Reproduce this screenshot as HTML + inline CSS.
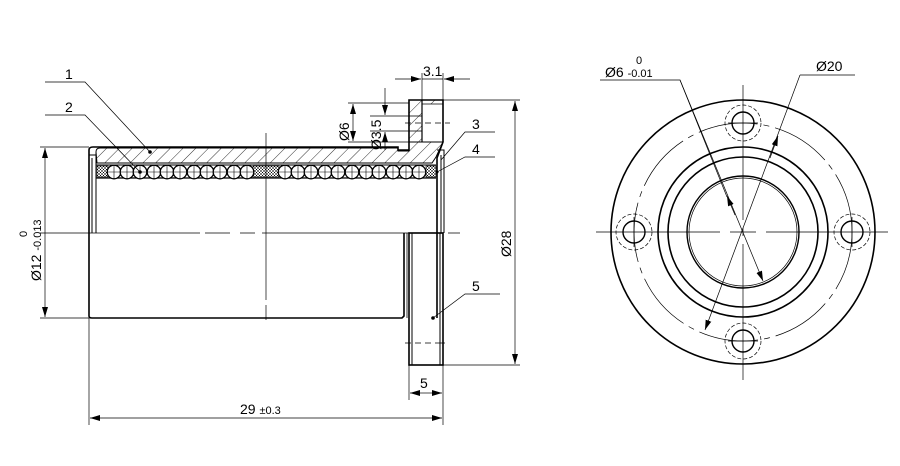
<!DOCTYPE html>
<html><head><meta charset="utf-8"><style>
html,body{margin:0;padding:0;background:#fff;}
svg{display:block;}
text{font-family:"Liberation Sans","DejaVu Sans",sans-serif;fill:#000;}
</style></head><body>
<svg width="900" height="466" viewBox="0 0 900 466" xmlns="http://www.w3.org/2000/svg">
<defs>
<pattern id="h" width="9" height="9" patternUnits="userSpaceOnUse" patternTransform="rotate(45)">
<line x1="0" y1="0" x2="0" y2="9" stroke="#000" stroke-width="0.8"/></pattern>
<pattern id="x" width="3" height="3" patternUnits="userSpaceOnUse">
<path d="M0 0L3 3M3 0L0 3" stroke="#000" stroke-width="0.5"/></pattern>
<g id="b"><circle r="6.8" fill="#fff" stroke="#000" stroke-width="1.3"/><path d="M-6.8 0H6.8M0 -6.8V6.8" stroke="#000" stroke-width="0.6"/></g>
<marker id="a" markerWidth="10" markerHeight="6" refX="10" refY="3" orient="auto" markerUnits="userSpaceOnUse"><path d="M0 0L10 3L0 6z" fill="#000"/></marker>
</defs>
<g fill="none" stroke="#000">
<path d="M89 150Q89 147 93 147H398V150H409V100H443V142L437 158V318" stroke-width="1.6"/>
<path d="M89 150V316Q89 318 92 318H402L404 316V233" stroke-width="1.6"/>
<rect x="409" y="233" width="34" height="132" stroke-width="1.6"/>
<line x1="412" y1="233" x2="412" y2="365" stroke-width="1"/>
<line x1="440" y1="233" x2="440" y2="365" stroke-width="1"/>
<line x1="407" y1="233" x2="407" y2="318" stroke-width="0.8"/>
<path d="M96 152Q96 148 100 148H398V151H409V142H443L436 157L432 163H97Z" fill="url(#h)" stroke-width="1"/>
<path d="M409 100H422V142H409Z" fill="url(#h)" stroke-width="1"/>
<path d="M422 100H443V104H422Z" fill="url(#h)" stroke-width="0.8"/>
<line x1="409" y1="116" x2="422" y2="116" stroke-width="0.8"/>
<line x1="409" y1="131" x2="422" y2="131" stroke-width="0.8"/>
<line x1="422" y1="100" x2="422" y2="142" stroke-width="1.2"/>
<path d="M405 123H411M415 123H421M425 123H431M435 123H441M445 123H450" stroke-width="0.7"/>
<line x1="96" y1="165" x2="436" y2="165" stroke-width="1"/>
<line x1="96" y1="178" x2="436" y2="178" stroke-width="1.2"/>
<rect x="97" y="166" width="11" height="11" fill="url(#x)" stroke-width="0.6"/>
<rect x="253" y="166" width="26" height="11" fill="url(#x)" stroke-width="0.6"/>
<rect x="426" y="166" width="10" height="11" fill="url(#x)" stroke-width="0.6"/>
<path d="M89 155H96V233M92 158V233M96 152V233" stroke-width="1"/>
<path d="M437 150H444V233M441 155V233M437 158V233" stroke-width="1"/>
<path d="M40 233H200M205 233H230M240 233H255M262 233H440M448 233H460" stroke-width="0.7"/>
<path d="M266 133V300M266 305V320" stroke-width="0.7"/>
<path d="M405 343H411M415 343H421M425 343H431M435 343H445" stroke-width="0.7"/>
</g>
<g>
<use href="#b" x="114" y="172"/><use href="#b" x="127" y="172"/><use href="#b" x="140" y="172"/><use href="#b" x="154" y="172"/><use href="#b" x="167" y="172"/><use href="#b" x="180" y="172"/><use href="#b" x="194" y="172"/><use href="#b" x="207" y="172"/><use href="#b" x="220" y="172"/><use href="#b" x="234" y="172"/><use href="#b" x="247" y="172"/>
<use href="#b" x="285" y="172"/><use href="#b" x="298" y="172"/><use href="#b" x="311" y="172"/><use href="#b" x="325" y="172"/><use href="#b" x="338" y="172"/><use href="#b" x="352" y="172"/><use href="#b" x="366" y="172"/><use href="#b" x="379" y="172"/><use href="#b" x="393" y="172"/><use href="#b" x="406" y="172"/><use href="#b" x="419" y="172"/>
</g>
<g fill="none" stroke="#000" stroke-width="0.7">
<path d="M40 147H89M40 318H89"/>
<line x1="45" y1="233" x2="45" y2="148" marker-end="url(#a)"/>
<line x1="45" y1="233" x2="45" y2="317" marker-end="url(#a)"/>
<path d="M443 100H520M443 365H520"/>
<line x1="515" y1="233" x2="515" y2="101" marker-end="url(#a)"/>
<line x1="515" y1="233" x2="515" y2="364" marker-end="url(#a)"/>
<path d="M89 318V425M443 365V425M409 365V400"/>
<line x1="265" y1="418" x2="90" y2="418" marker-end="url(#a)"/>
<line x1="265" y1="418" x2="442" y2="418" marker-end="url(#a)"/>
<line x1="426" y1="393" x2="410" y2="393" marker-end="url(#a)"/>
<line x1="426" y1="393" x2="442" y2="393" marker-end="url(#a)"/>
<path d="M422 73V100M443 73V100"/>
<line x1="395" y1="79" x2="421" y2="79" marker-end="url(#a)"/>
<line x1="470" y1="79" x2="444" y2="79" marker-end="url(#a)"/>
<line x1="422" y1="79" x2="443" y2="79"/>
<path d="M348 103H409M348 142H409M370 116H409M370 131H409"/>
<line x1="353" y1="122" x2="353" y2="104" marker-end="url(#a)"/>
<line x1="353" y1="122" x2="353" y2="141" marker-end="url(#a)"/>
<line x1="385" y1="88" x2="385" y2="115" marker-end="url(#a)"/>
<line x1="385" y1="150" x2="385" y2="132" marker-end="url(#a)"/>
<path d="M45 82H85L150 152"/><path d="M45 115H85L140 172"/>
<path d="M495 132H465L441 160"/><path d="M495 157H465L437 172"/>
<path d="M500 294H465L433 318"/>
</g>
<circle cx="150" cy="152" r="1.8"/><circle cx="140" cy="172" r="1.8"/><circle cx="433" cy="318" r="1.8"/>
<circle cx="437" cy="172" r="1.5"/>
<g font-size="14">
<text x="65" y="79">1</text><text x="65" y="112">2</text>
<text x="472" y="129">3</text><text x="472" y="154">4</text><text x="472" y="291">5</text>
<text x="420" y="388">5</text>
<text x="240" y="414">29 <tspan font-size="11">±0.3</tspan></text>
<text x="423" y="76">3.1</text>
<text transform="translate(349,141) rotate(-90)">Ø6</text>
<text transform="translate(381,150) rotate(-90)">Ø3.5</text>
<text transform="translate(41,281) rotate(-90)">Ø12 <tspan font-size="11">-0.013</tspan></text>
<text transform="translate(27,237) rotate(-90)" font-size="11">0</text>
<text transform="translate(511,257) rotate(-90)">Ø28</text>
<text x="605" y="77">Ø6 <tspan font-size="11">-0.01</tspan></text>
<text x="636" y="64" font-size="11">0</text>
<text x="816" y="71">Ø20</text>
</g>
<g fill="none" stroke="#000">
<circle cx="743" cy="232" r="132" stroke-width="1.6"/>
<circle cx="743" cy="232" r="109" stroke-width="0.7" stroke-dasharray="60 6 6 6"/>
<circle cx="743" cy="232" r="85" stroke-width="1.6"/>
<circle cx="743" cy="232" r="75" stroke-width="1.6"/>
<circle cx="743" cy="232" r="56" stroke-width="1.4"/>
<circle cx="743" cy="232" r="54" stroke-width="0.7"/>
<g stroke-width="1.4"><circle cx="743" cy="123" r="11"/><circle cx="743" cy="341" r="11"/><circle cx="634" cy="232" r="11"/><circle cx="852" cy="232" r="11"/></g>
<g stroke-width="0.7" stroke-dasharray="4 2"><circle cx="743" cy="123" r="18"/><circle cx="743" cy="341" r="18"/><circle cx="634" cy="232" r="18"/><circle cx="852" cy="232" r="18"/></g>
<g stroke-width="0.7">
<path d="M596 232H720M730 232H756M766 232H888"/>
<path d="M743 85V220M743 228V236M743 244V380"/>
<path d="M728 123H758M728 341H758M634 217V247M852 217V247"/>
<path d="M600 80H680L727 197"/>
<line x1="680" y1="80" x2="763" y2="281" marker-end="url(#a)"/>
<line x1="735" y1="215" x2="727" y2="196" marker-end="url(#a)"/>
<path d="M855 75H800"/>
<line x1="800" y1="75" x2="705" y2="330" marker-end="url(#a)"/>
<line x1="770" y1="158" x2="778" y2="136" marker-end="url(#a)"/>
</g>
</g>
</svg>
</body></html>
